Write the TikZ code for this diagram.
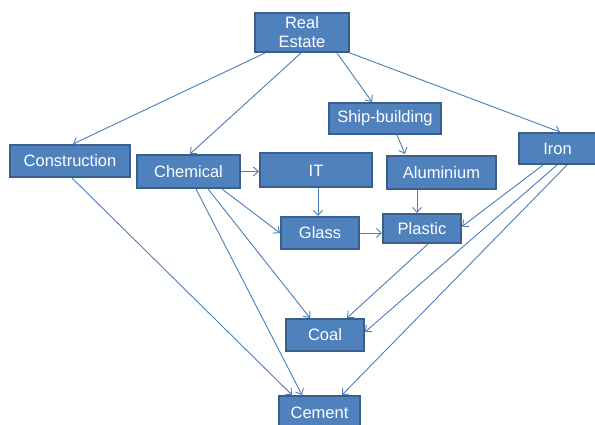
\documentclass[tikz,border=0pt]{standalone}
\usepackage{fontspec}
\setmainfont{Liberation Sans}
\usetikzlibrary{arrows.meta,calc}
\definecolor{boxfill}{HTML}{4F81BD}
\definecolor{boxline}{HTML}{3A5F8C}
\definecolor{arrcol}{HTML}{4A7EBB}
\begin{document}
\begin{tikzpicture}[x=1pt,y=-1pt,
  box/.style={rectangle,draw=boxline,fill=boxfill,line width=2pt,text=white,
    inner sep=0pt,font=\fontsize{16.5}{19}\selectfont,align=center},
  arr/.style={draw=arrcol,line width=0.9pt,-{Straight Barb[length=5pt,width=9pt]}},
  ln/.style={draw=arrcol,line width=0.9pt}]
\useasboundingbox (0,0) rectangle (595,425);
\clip (0,0) rectangle (595,425);
\node[box,minimum width=94pt,minimum height=39pt] (re) at (302,32.5) {Real\\Estate};
\node[box,minimum width=120pt,minimum height=32pt] (cons) at (70,161) {Construction};
\node[box,minimum width=103pt,minimum height=33pt] (chem) at (188.5,171.5) {Chemical};
\node[box,minimum width=112pt,minimum height=34pt] (it) at (316,170.5) {IT};
\node[box,minimum width=112pt,minimum height=31pt] (ship) at (385,118.5) {Ship-building};
\node[box,minimum width=109pt,minimum height=33pt] (alu) at (441.5,172.5) {Aluminium};
\node[box,minimum width=77pt,minimum height=31pt] (iron) at (557.5,148.5) {Iron};
\node[box,minimum width=78pt,minimum height=29pt] (plastic) at (422,228.5) {Plastic};
\node[box,minimum width=78pt,minimum height=32pt] (glass) at (320,233) {Glass};
\node[box,minimum width=78pt,minimum height=32pt] (coal) at (325,335) {Coal};
\node[box,minimum width=81pt,minimum height=34pt] (cement) at (319.5,413) {Cement};
% from Real Estate
\draw[arr] ($(re.south)+(-37,0)$) -- ($(cons.north)+(3,0)$);
\draw[arr] ($(re.south)+(-1,0)$) -- ($(chem.north)+(1.5,0)$);
\draw[arr] ($(re.south)+(35,0)$) -- ($(ship.north)+(-13,0)$);
\draw[arr] (re.south east) -- ($(iron.north)+(2.5,0)$);
% Chemical
\draw[arr] (chem.east) -- (chem.east -| it.west);
\draw[arr] ($(chem.south)+(33.5,0)$) -- (glass.west);
\draw[arr] ($(chem.south)+(19.5,0)$) -- ($(coal.north)+(-15,0)$);
\draw[arr] ($(chem.south)+(7.5,0)$) -- ($(cement.north)+(-17.5,0)$);
% Construction
\draw[arr] ($(cons.south)+(2,0)$) -- ($(cement.north)+(-27.5,0)$);
% IT
\draw[arr] ($(it.south)+(2,0)$) -- ($(glass.north)+(-2,0)$);
% Ship-building
\draw[arr] ($(ship.south)+(12,0)$) -- ($(alu.north)+(-36.5,-1)$);
% Aluminium
\draw[arr] ($(alu.south)+(-24.5,0)$) -- ($(plastic.north)+(-5,0)$);
% Glass
\draw[arr] (glass.east) -- (glass.east -| plastic.west);
% Plastic
\draw[arr] ($(plastic.south)+(6,0)$) -- ($(coal.north)+(22,0)$);
% Iron
\draw[arr] ($(iron.south)+(-14.5,0)$) -- ($(plastic.east)+(0,-2)$);
\draw[arr] ($(iron.south)+(-0.5,0)$) -- ($(coal.east)+(0,-3)$);
\draw[arr] ($(iron.south)+(9.5,0)$) -- ($(cement.north)+(22.5,0)$);
\end{tikzpicture}
\end{document}
